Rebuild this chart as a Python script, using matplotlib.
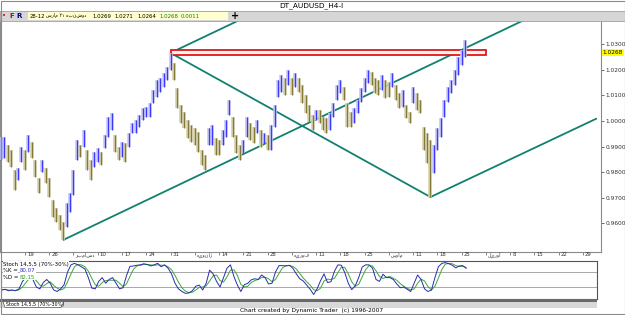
import matplotlib
matplotlib.use("Agg")
import matplotlib.pyplot as plt
import matplotlib.dates as mdates
from matplotlib.patches import Rectangle, Polygon
from matplotlib import transforms
import pandas as pd

plt.rcParams['font.family'] = ['DejaVu Sans']

W, H, DPI = 625, 315, 100

# ---------------- data ----------------
bar_start = "2010-11-12"
bar_high = [
    0.9938, 0.9938, 0.9906, 0.9887, 0.9809, 0.9816, 0.9898, 0.9887, 0.9945, 0.9918,
    0.9848, 0.9777, 0.9848, 0.9816, 0.9777, 0.9691, 0.9660, 0.9633, 0.9605, 0.9680,
    0.9719, 0.9809, 0.9926, 0.9906, 0.9965, 0.9887, 0.9848, 0.9879, 0.9895, 0.9879,
    0.9945, 1.0016, 1.0031, 0.9945, 0.9898, 0.9918, 0.9914, 0.9953, 0.9992, 1.0004,
    1.0023, 1.0051, 1.0055, 1.0070, 1.0121, 1.0160, 1.0168, 1.0188, 1.0211, 1.0266,
    1.0227, 1.0129, 1.0063, 1.0035, 1.0004, 0.9984, 0.9973, 0.9957, 0.9887, 0.9867,
    0.9973, 0.9984, 0.9934, 0.9926, 0.9965, 1.0004, 1.0082, 1.0016, 0.9945, 0.9906,
    0.9926, 1.0016, 0.9992, 0.9977, 1.0004, 0.9965, 0.9953, 0.9945, 0.9984, 1.0063,
    1.0160, 1.0180, 1.0168, 1.0199, 1.0168, 1.0188, 1.0168, 1.0141, 1.0102, 1.0063,
    1.0023, 1.0043, 1.0043, 1.0016, 1.0012, 1.0031, 1.0070, 1.0141, 1.0160, 1.0133,
    1.0070, 1.0035, 1.0051, 1.0082, 1.0129, 1.0168, 1.0199, 1.0191, 1.0168, 1.0160,
    1.0180, 1.0160, 1.0152, 1.0188, 1.0141, 1.0109, 1.0121, 1.0063, 1.0035, 1.0133,
    1.0109, 1.0082, 0.9977, 0.9953, 0.9926, 0.9906, 0.9973, 1.0012, 1.0082, 1.0133,
    1.0160, 1.0199, 1.0250, 1.0277, 1.0316,
]
bar_low = [
    0.9848, 0.9855, 0.9840, 0.9820, 0.9730, 0.9770, 0.9840, 0.9809, 0.9879, 0.9855,
    0.9781, 0.9719, 0.9801, 0.9758, 0.9703, 0.9625, 0.9605, 0.9574, 0.9535, 0.9586,
    0.9645, 0.9711, 0.9848, 0.9859, 0.9898, 0.9809, 0.9770, 0.9820, 0.9840, 0.9828,
    0.9895, 0.9938, 0.9965, 0.9879, 0.9848, 0.9859, 0.9840, 0.9898, 0.9953, 0.9953,
    0.9977, 1.0004, 1.0016, 1.0016, 1.0070, 1.0094, 1.0113, 1.0133, 1.0160, 1.0199,
    1.0160, 1.0051, 0.9992, 0.9973, 0.9934, 0.9918, 0.9906, 0.9879, 0.9828, 0.9809,
    0.9906, 0.9906, 0.9867, 0.9867, 0.9906, 0.9938, 1.0023, 0.9938, 0.9875, 0.9848,
    0.9875, 0.9938, 0.9926, 0.9914, 0.9953, 0.9898, 0.9914, 0.9887, 0.9887, 0.9977,
    1.0094, 1.0113, 1.0102, 1.0141, 1.0102, 1.0133, 1.0113, 1.0070, 1.0031, 0.9996,
    0.9965, 1.0004, 0.9992, 0.9965, 0.9953, 0.9965, 1.0016, 1.0082, 1.0109, 1.0082,
    0.9977, 0.9977, 0.9992, 1.0031, 1.0074, 1.0113, 1.0148, 1.0141, 1.0109, 1.0102,
    1.0121, 1.0090, 1.0094, 1.0133, 1.0082, 1.0051, 1.0055, 1.0012, 0.9992, 1.0070,
    1.0043, 1.0031, 0.9887, 0.9836, 0.9703, 0.9797, 0.9887, 0.9938, 1.0016, 1.0074,
    1.0109, 1.0141, 1.0180, 1.0219, 1.0250,
]
stoch_k = [
    22, 24, 20, 22, 20, 25, 45, 55, 60, 50,
    30, 25, 42, 50, 40, 22, 18, 25, 36, 70,
    89, 93, 89, 84, 78, 55, 27, 25, 45, 55,
    40, 50, 55, 40, 25, 28, 60, 85, 86, 88,
    89, 92, 90, 86, 89, 93, 84, 89, 80, 65,
    40, 25, 18, 13, 14, 20, 32, 35, 22, 40,
    75, 65, 45, 30, 55, 80, 89, 58, 35, 18,
    36, 40, 49, 52, 50, 62, 55, 38, 40, 70,
    87, 87, 86, 88, 80, 65, 52, 46, 35, 24,
    10, 25, 47, 65, 42, 44, 72, 89, 88, 68,
    40, 23, 33, 55, 83, 89, 89, 80, 50, 45,
    64, 55, 55, 50, 38, 28, 30, 24, 18, 40,
    62, 50, 25, 18, 22, 55, 84, 93, 95, 92,
    88, 81, 86, 87, 80,
]
stoch_d = [
    23, 23, 22, 21, 21, 22, 30, 42, 53, 55,
    47, 35, 32, 39, 44, 34, 27, 22, 26, 44,
    65, 84, 90, 89, 84, 72, 53, 36, 32, 42,
    47, 48, 48, 48, 40, 31, 38, 58, 77, 86,
    88, 90, 90, 89, 88, 89, 88, 88, 84, 76,
    61, 43, 28, 19, 15, 16, 22, 29, 30, 33,
    46, 60, 62, 47, 43, 57, 75, 76, 61, 37,
    30, 32, 42, 47, 50, 55, 56, 52, 44, 50,
    66, 81, 87, 87, 85, 78, 66, 54, 44, 35,
    23, 20, 27, 46, 51, 50, 53, 68, 83, 82,
    65, 44, 32, 37, 57, 76, 87, 86, 73, 58,
    53, 56, 58, 53, 48, 39, 32, 27, 22, 25,
    40, 51, 46, 31, 22, 32, 54, 77, 91, 93,
    92, 87, 85, 85, 82,
]
stoch_levels = [70, 30]
k_value, d_value = "80.07", "82.15"

tick_dates = ["2010-11-19", "2010-11-26", "2010-12-03", "2010-12-10", "2010-12-17",
              "2010-12-24", "2010-12-31", "2011-01-07", "2011-01-14", "2011-01-21",
              "2011-01-28", "2011-02-04", "2011-02-11", "2011-02-18", "2011-02-25",
              "2011-03-04", "2011-03-11", "2011-03-18", "2011-03-25", "2011-04-01",
              "2011-04-08", "2011-04-15", "2011-04-22", "2011-04-29"]
tick_labels = ["19", "26", "دسامبر", "10", "17", "24", "31", "ژانویه", "14", "21",
               "28", "فوریه", "11", "18", "25", "مارس", "11", "18", "25", "آوریل",
               "8", "15", "22", "29"]
price_ticks = [0.96, 0.97, 0.98, 0.99, 1.00, 1.01, 1.02, 1.03]
last_price = 1.0268
info_date = "28-12"
info_words = ["دوشنبه", "۲۱", "مارس"]
info_values = ["1.0269", "1.0271", "1.0264", "1.0268", "0.0011"]

trend_lines = [
    (("2010-11-30 00:00", 0.9535), ("2011-04-12 03:00", 1.0395)),
    (("2010-12-31 00:00", 1.0266), ("2011-01-20 00:00", 1.0395)),
    (("2010-12-31 00:00", 1.0266), ("2011-03-16 00:00", 0.9703)),
    (("2011-03-16 00:00", 0.9703), ("2011-05-03 00:00", 1.0010)),
]
zone_start, zone_end = "2010-12-31", "2011-04-01"
zone_low, zone_high = 1.0256, 1.0277

view_start, view_end = "2010-11-11 19:12", "2011-05-04 04:48"
price_min, price_max = 0.94883, 1.03945

# ---------------- figure ----------------
fig = plt.figure(figsize=(W / DPI, H / DPI), dpi=DPI)
fig.patch.set_facecolor("white")


def fx(px):
    return px / W


def fy(py):
    return 1 - py / H


def frect(x0, y0, x1, y1, **kw):
    fig.add_artist(Rectangle((fx(x0), fy(y1)), (x1 - x0) / W, (y1 - y0) / H,
                             transform=fig.transFigure, **kw))


# header
frect(0, 11.5, 625, 20.5, facecolor="#d6d6d6", edgecolor="#a0a0a0", lw=0.6)
frect(28, 12.5, 228, 19.5, facecolor="#ffffd0", edgecolor="none")
fig.text(fx(311), fy(5.5), "DT_AUDUSD_H4-I", ha="center", va="center", fontsize=5.3, color="black")
fig.text(fx(4), fy(16.2), "•", ha="center", va="center", fontsize=5, color="#e00000")
fig.text(fx(12), fy(16), "F", ha="center", va="center", fontsize=5, color="#c00000", weight="bold")
fig.text(fx(19), fy(16), "R", ha="center", va="center", fontsize=5, color="#000080", weight="bold")
fig.text(fx(30), fy(16), info_date, ha="left", va="center", fontsize=3.9)
vis = " ".join(w if w.isdigit() else w[::-1] for w in reversed(info_words))
fig.text(fx(66), fy(16), vis, ha="center", va="center", fontsize=3.3)
for j, (v, xp) in enumerate(zip(info_values, [92, 114, 137, 159, 181])):
    fig.text(fx(xp), fy(16), v, ha="left", va="center", fontsize=3.9,
             color="black" if j < 3 else "#108010")
fig.text(fx(235), fy(16), "+", ha="center", va="center", fontsize=7, color="black", weight="bold")

# ---------------- main chart ----------------
ax = fig.add_axes([fx(0), fy(252), 601 / W, 232 / H])
ax.set_facecolor("white")
dates = pd.date_range(bar_start, periods=len(bar_high), freq="D")
xd = mdates.date2num(dates)
mids = [(h + l) / 2 for h, l in zip(bar_high, bar_low)]
cols, halo = [], []
for i in range(len(mids)):
    up = i == 0 or mids[i] >= mids[i - 1]
    cols.append("#3a3aff" if up else "#857a35")
    halo.append("#c6c6f0" if up else "#d6d1b2")
ax.vlines(xd, bar_low, bar_high, colors=halo, lw=2.6, zorder=3)
ax.vlines(xd, bar_low, bar_high, colors=cols, lw=0.9, zorder=4)

for (d0, p0), (d1, p1) in trend_lines:
    ax.plot(mdates.date2num(pd.to_datetime([d0, d1])), [p0, p1], color="#12806f",
            lw=1.3, zorder=2, solid_capstyle="butt")

zx0, zx1 = mdates.date2num(pd.to_datetime([zone_start, zone_end]))
ax.add_patch(Rectangle((zx0, zone_low), zx1 - zx0, zone_high - zone_low,
                       facecolor="#fff4f4", edgecolor="#e01818", lw=1.3, zorder=2.5))

v0, v1 = mdates.date2num(pd.to_datetime([view_start, view_end]))
ax.set_xlim(v0, v1)
ax.set_ylim(price_min, price_max)
ax.spines["top"].set_visible(False)
for s in ["left", "right", "bottom"]:
    ax.spines[s].set_color("#8a8a8a")
    ax.spines[s].set_linewidth(0.8)

ax.yaxis.tick_right()
ax.set_yticks(price_ticks)
ax.set_yticklabels([f"{p:.4f}" for p in price_ticks])
ax.tick_params(axis="y", direction="out", length=2, width=0.5, pad=1,
               labelsize=4.2, colors="#333333")

tick_x = mdates.date2num(pd.to_datetime(tick_dates))
ax.set_xticks(tick_x)
ax.set_xticklabels([])
ax.tick_params(axis="x", direction="out", length=2.5, width=0.5, colors="#555555")
trans = transforms.blended_transform_factory(ax.transData, ax.transAxes) + \
    transforms.ScaledTranslation(2 / DPI, -0.5 / DPI, fig.dpi_scale_trans)
for x, lab in zip(tick_x, tick_labels):
    txt = lab if lab.isdigit() else lab[::-1]
    ax.text(x, 0, txt, transform=trans, ha="left", va="top",
            fontsize=3.9 if lab.isdigit() else 3.5, color="#333333", clip_on=False)

ytrans = transforms.blended_transform_factory(ax.transAxes, ax.transData)
ax.text(1.003, last_price, f"{last_price:.4f}", transform=ytrans, ha="left", va="center",
        fontsize=4.2, color="black", clip_on=False, zorder=10,
        bbox=dict(boxstyle="square,pad=0.12", facecolor="#ffff00", edgecolor="none"))

# ---------------- stochastic panel ----------------
sx = fig.add_axes([fx(1), fy(299), 596 / W, 38 / H])
sx.set_facecolor("white")
sdates = mdates.date2num(pd.date_range(bar_start, periods=len(stoch_k), freq="D"))
for lv in stoch_levels:
    sx.axhline(lv, color="#a8a8a8", lw=0.7, zorder=1)
sx.plot(sdates, stoch_d, color="#3aa83a", lw=0.7, zorder=2)
sx.plot(sdates, stoch_k, color="#2a2ab0", lw=0.7, zorder=3)
sx.set_xlim(v0, v0 + (v1 - v0) * 596 / 601)
sx.set_ylim(-2, 99.3)
sx.set_xticks([])
sx.set_yticks([])
for s in sx.spines.values():
    s.set_color("#555555")
    s.set_linewidth(0.8)
wb = dict(boxstyle="square,pad=0.05", facecolor="white", edgecolor="none")
sx.text(0.004, 0.92, "Stoch 14,5,5 (70%-30%)", transform=sx.transAxes, ha="left",
        va="center", fontsize=3.9, zorder=5, bbox=wb)
sx.text(0.004, 0.74, "%K =", transform=sx.transAxes, ha="left", va="center", fontsize=3.9,
        zorder=5, bbox=wb)
sx.text(0.032, 0.74, k_value, transform=sx.transAxes, ha="left", va="center", fontsize=3.9,
        color="#3030c0", zorder=5, bbox=wb)
sx.text(0.004, 0.56, "%D =", transform=sx.transAxes, ha="left", va="center", fontsize=3.9,
        zorder=5, bbox=wb)
sx.text(0.032, 0.56, d_value, transform=sx.transAxes, ha="left", va="center", fontsize=3.9,
        color="#20a020", zorder=5, bbox=wb)

# bottom bars
frect(0, 299, 597, 301.5, facecolor="#6a6a6a", edgecolor="none")
frect(0, 301.5, 597, 307.5, facecolor="#d8d8d8", edgecolor="none")
fig.add_artist(Polygon([(fx(3), fy(301.5)), (fx(64), fy(301.5)), (fx(61), fy(307.5)),
                        (fx(5), fy(307.5))], closed=True, transform=fig.transFigure,
                       facecolor="white", edgecolor="#505050", lw=0.5))
fig.text(fx(6), fy(304.6), "Stoch 14,5,5 (70%-30%)", ha="left", va="center", fontsize=3.4)
fig.text(fx(312), fy(310.8), "Chart created by Dynamic Trader  (c) 1996-2007", ha="center",
         va="center", fontsize=4.2)

# outer frame
fig.add_artist(Rectangle((0.0008, 0.0016), 0.9984, 0.9968, transform=fig.transFigure,
                         facecolor="none", edgecolor="#8a8a8a", lw=0.8))

fig.savefig("out.png", dpi=DPI, facecolor="white")
